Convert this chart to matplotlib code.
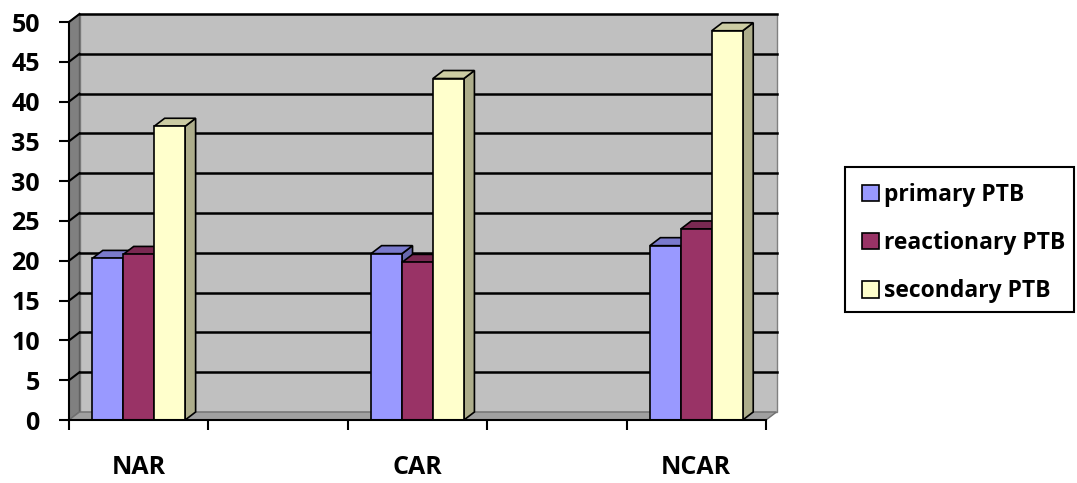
import matplotlib.pyplot as plt
from matplotlib.patches import Polygon, Rectangle
from matplotlib.colors import to_rgb

categories = ['NAR', '', 'CAR', '', 'NCAR']
series_names = ['primary PTB', 'reactionary PTB', 'secondary PTB']
primary = [20.3, None, 20.9, None, 21.9]
reactionary = [20.8, None, 19.8, None, 24.0]
secondary = [36.9, None, 42.9, None, 48.9]
yticks = [0, 5, 10, 15, 20, 25, 30, 35, 40, 45, 50]

face_colors = ['#9999FF', '#993366', '#FFFFCC']


def shade(color, k):
    r, g, b = to_rgb(color)
    return (r * k, g * k, b * k)


plt.rcParams['font.family'] = ['Open Sans', 'DejaVu Sans']

W, H = 1077, 483
fig = plt.figure(figsize=(W / 100, H / 100), dpi=100)
ax = fig.add_axes([69 / W, 63 / H, 697 / W, 398 / H])
x0, x1 = -0.5, 4.5
ax.set_xlim(x0, x1)
ax.set_ylim(0, 50)

# depth offset of the pseudo 3d box, in data units
dx = 10.5 * 5 / 697
dy = 8 * 50 / 398

# back wall, left wall, floor
ax.add_patch(Polygon([(x0 + dx, dy), (x1 + dx, dy), (x1 + dx, 50 + dy), (x0 + dx, 50 + dy)],
                     closed=True, fc='#C0C0C0', ec='#808080', lw=1, clip_on=False, zorder=1))
ax.add_patch(Polygon([(x0, 0), (x0 + dx, dy), (x0 + dx, 50 + dy), (x0, 50)],
                     closed=True, fc='#808080', ec='#606060', lw=1, clip_on=False, zorder=1))
ax.add_patch(Polygon([(x0, 0), (x1, 0), (x1 + dx, dy), (x0 + dx, dy)],
                     closed=True, fc='#A0A0A0', ec='#707070', lw=1, clip_on=False, zorder=1))
for v in yticks[1:]:
    ax.plot([x0 + dx, x1 + dx], [v + dy, v + dy], color='black', lw=1.8, clip_on=False, zorder=2)
    ax.plot([x0, x0 + dx], [v, v + dy], color='black', lw=1.5, clip_on=False, zorder=2)

# bars
w = 0.222
xs = list(range(len(categories)))
data = [primary, reactionary, secondary]
handles = []
z = 3
for i, (vals, col) in enumerate(zip(data, face_colors)):
    pos = [x + (i - 1) * w for x in xs if vals[x] is not None]
    hs = [v for v in vals if v is not None]
    for p, h in zip(pos, hs):
        left, right = p - w / 2, p + w / 2
        ax.add_patch(Polygon([(right, 0), (right + dx, dy), (right + dx, h + dy), (right, h)],
                             closed=True, fc=shade(col, 0.68), ec='black', lw=1.2,
                             zorder=z + i * 3, clip_on=False))
        ax.add_patch(Polygon([(left, h), (right, h), (right + dx, h + dy), (left + dx, h + dy)],
                             closed=True, fc=shade(col, 0.8), ec='black', lw=1.2,
                             zorder=z + i * 3 + 1, clip_on=False))
    bc = ax.bar(pos, hs, width=w, color=col, edgecolor='black', linewidth=1.2,
                zorder=z + i * 3 + 2, label=series_names[i])
    handles.append(bc)

# axes styling
for s in ['top', 'right']:
    ax.spines[s].set_visible(False)
ax.spines['left'].set_linewidth(1.5)
ax.spines['bottom'].set_linewidth(1.5)
ax.spines['left'].set_zorder(20)
ax.spines['bottom'].set_zorder(20)
ax.set_yticks(yticks)
ax.set_yticklabels([str(v) for v in yticks], fontsize=18, fontweight='bold')
ax.set_xticks([x0 + k for k in range(6)])
ax.set_xticklabels([])
ax.set_xticks(xs, minor=True)
ax.set_xticklabels(categories, minor=True, fontsize=18, fontweight='bold')
ax.tick_params(axis='x', which='minor', length=0, pad=25)
ax.tick_params(axis='x', which='major', length=7, width=1.5, direction='out')
ax.tick_params(axis='y', length=7, width=1.5, pad=14)

# legend: entries without frame, box drawn separately
fig.legend(handles=handles, labels=series_names, loc='upper left',
           bbox_to_anchor=(862 / W, 1 - 183 / H),
           frameon=False, prop={'size': 16.5, 'weight': 'bold'},
           handlelength=0.75, handleheight=0.75, handletextpad=0.22,
           labelspacing=1.05, borderpad=0, borderaxespad=0)
fig.patches.append(Rectangle((845 / W, 1 - 312 / H), 229 / W, 145 / H,
                             transform=fig.transFigure, fill=False,
                             edgecolor='black', linewidth=1.5))

fig.savefig('out.png', dpi=100)
